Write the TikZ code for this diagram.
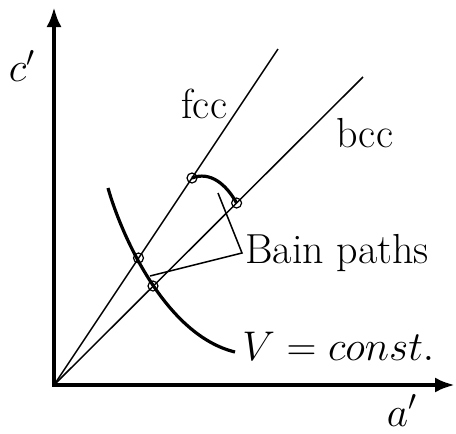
\documentclass[tikz,border=0pt]{standalone}
\usetikzlibrary{arrows.meta}
\begin{document}
\begin{tikzpicture}[x=0.5pt,y=-0.5pt,
  ray/.style={line width=0.75pt},
  thickcurve/.style={line width=1.6pt},
  pt/.style={circle,draw,line width=0.6pt,minimum size=5pt,inner sep=0pt},
  lbl/.style={inner sep=0pt,font=\fontsize{21}{25}\selectfont}]
\useasboundingbox (0,0) rectangle (456,434);
% axes
\coordinate (O) at (54,385);
\coordinate (ytip) at (54,7);
\coordinate (xtip) at (455,385);
\draw[line width=2.2pt,{Latex[length=10pt,width=7.5pt]}-{Latex[length=10pt,width=7.5pt]}] (ytip) -- (O) -- (xtip);
% rays
\coordinate (fend) at (278,49);
\coordinate (bend) at (363,77);
\draw[ray] (O) -- (fend);
\draw[ray] (O) -- (bend);
% V = const curve
\coordinate (vs) at (108,188);
\coordinate (ve) at (235,352);
\draw[thickcurve] (vs) .. controls (121,234) and (165,335) .. (ve);
% points
\node[pt] (p1) at (192,178) {};
\node[pt] (p2) at (236.6,203) {};
\node[pt] (p3) at (138.5,258) {};
\node[pt] (p4) at (153,286) {};
% Bain path along the arc
\draw[thickcurve] (p1.center) .. controls (210,171) and (226,184) .. (p2.center);
% labels
\node[lbl] (cl) at (22,66) {$c'$};
\node[lbl,anchor=base] (al) at (402,426) {$a'$};
\node[lbl,anchor=base west] (fl) at (181,118) {fcc};
\node[lbl,anchor=base west] (bl) at (336,147) {bcc};
\node[lbl,anchor=base west] (vl) at (242,360) {$V = const.$};
\node[lbl,anchor=base west] (bp) at (245,263) {Bain paths};
\coordinate (bj) at (242,253);
\coordinate (a1) at (218,193);
\coordinate (a2) at (150,276);
\draw[ray] (a1) -- (bj) -- (a2);
\end{tikzpicture}
\end{document}
